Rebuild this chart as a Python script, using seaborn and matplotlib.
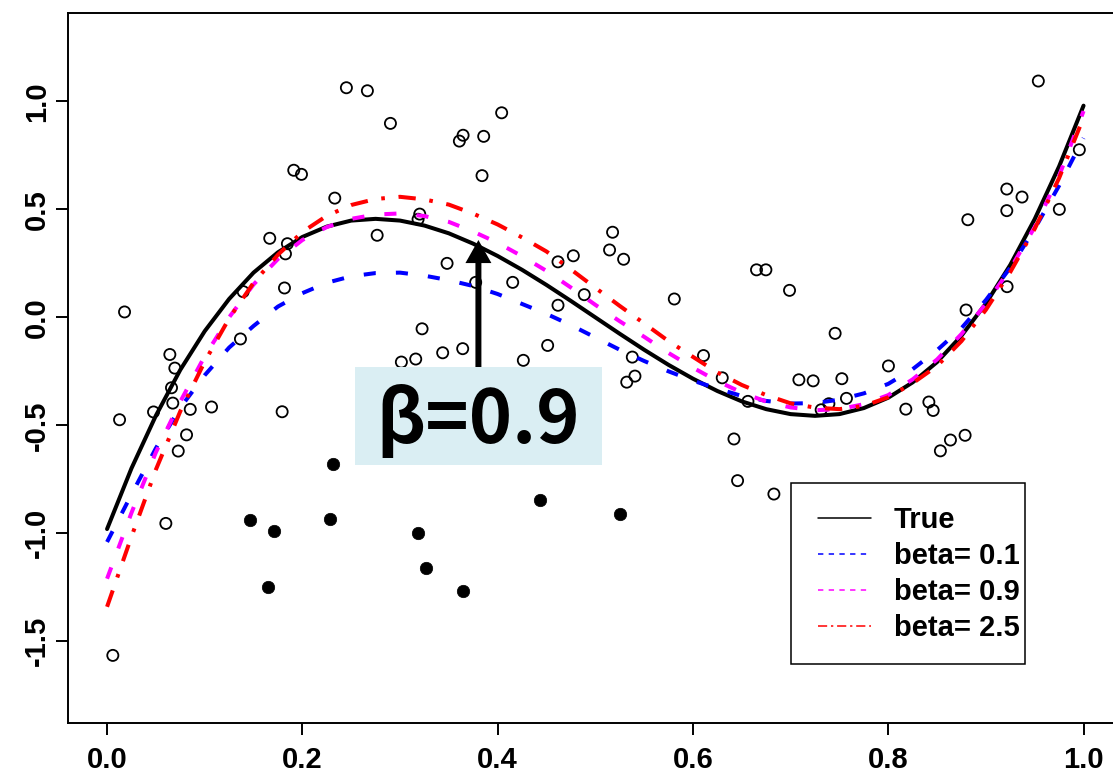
import numpy as np
import pandas as pd
import matplotlib
matplotlib.use("Agg")
import matplotlib.pyplot as plt
from matplotlib.lines import Line2D
from matplotlib.patches import Rectangle
import seaborn as sns

# ---------------- data ----------------
curve_x = [0.0, 0.025, 0.05, 0.075, 0.1, 0.125, 0.15, 0.175, 0.2, 0.225, 0.25, 0.275,
           0.3, 0.325, 0.35, 0.375, 0.4, 0.425, 0.45, 0.475, 0.5, 0.525, 0.55, 0.575,
           0.6, 0.625, 0.65, 0.675, 0.7, 0.725, 0.75, 0.775, 0.8, 0.825, 0.85, 0.875,
           0.9, 0.925, 0.95, 0.975, 1.0]
true_y = [-0.98, -0.699, -0.455, -0.243, -0.064, 0.085, 0.207, 0.301, 0.372, 0.420, 0.448, 0.456,
          0.448, 0.425, 0.389, 0.341, 0.284, 0.220, 0.150, 0.076, 0.0, -0.076, -0.150, -0.220,
          -0.284, -0.341, -0.389, -0.425, -0.448, -0.456, -0.448, -0.420, -0.372, -0.301, -0.207, -0.085,
          0.064, 0.243, 0.455, 0.699, 0.98]
beta01_y = [-1.04, -0.82, -0.606, -0.418, -0.268, -0.14, -0.04, 0.05, 0.112, 0.16, 0.19, 0.205,
            0.207, 0.193, 0.172, 0.145, 0.108, 0.062, 0.016, -0.036, -0.093, -0.15, -0.202, -0.25,
            -0.293, -0.33, -0.364, -0.387, -0.399, -0.397, -0.381, -0.352, -0.308, -0.24, -0.152, -0.05,
            0.08, 0.23, 0.41, 0.61, 0.83]
beta09_y = [-1.21, -0.905, -0.625, -0.39, -0.18, 0.0, 0.152, 0.27, 0.358, 0.418, 0.456, 0.476,
            0.481, 0.469, 0.442, 0.397, 0.345, 0.283, 0.215, 0.138, 0.058, -0.018, -0.09, -0.165,
            -0.233, -0.295, -0.348, -0.39, -0.417, -0.43, -0.425, -0.402, -0.36, -0.287, -0.195, -0.077,
            0.063, 0.225, 0.418, 0.655, 0.955]
beta25_y = [-1.34, -1.015, -0.705, -0.435, -0.205, -0.005, 0.16, 0.29, 0.395, 0.47, 0.52, 0.548,
            0.558, 0.546, 0.522, 0.48, 0.43, 0.37, 0.305, 0.222, 0.137, 0.053, -0.028, -0.11,
            -0.183, -0.255, -0.313, -0.36, -0.398, -0.418, -0.425, -0.41, -0.37, -0.305, -0.225, -0.11,
            0.035, 0.21, 0.41, 0.645, 0.925]

open_x = [0.0059, 0.0128, 0.0179, 0.0476, 0.0602, 0.0643, 0.0694, 0.0660, 0.0673, 0.0852,
          0.1070, 0.0814, 0.0729, 0.1793, 0.1366, 0.1394, 0.1817, 0.1666, 0.1847, 0.1827,
          0.1912, 0.1991, 0.2332, 0.2451, 0.2666, 0.2902, 0.4041, 0.3646, 0.3608, 0.3857,
          0.3840, 0.3202, 0.3185, 0.2766, 0.5177, 0.5146, 0.5290, 0.4775, 0.4618, 0.4887,
          0.4618, 0.3482, 0.3775, 0.4154, 0.3226, 0.4512, 0.3437, 0.3642, 0.5379, 0.3014,
          0.3161, 0.4263, 0.5406, 0.5322, 0.6651, 0.6747, 0.6989, 0.5809, 0.6108, 0.7456,
          0.6300, 0.6563, 0.6420, 0.6457, 0.6829, 0.7085, 0.7231, 0.7525, 0.8002, 0.7572,
          0.7392, 0.7313, 0.8180, 0.9537, 0.9957, 0.9214, 0.9370, 0.9214, 0.8815, 0.9752,
          0.9217, 0.8797, 0.8416, 0.8460, 0.8787, 0.8637, 0.8534]
open_y = [-1.565, -0.474, 0.025, -0.438, -0.954, -0.172, -0.235, -0.326, -0.397, -0.426,
          -0.415, -0.544, -0.619, -0.437, -0.100, 0.119, 0.136, 0.366, 0.341, 0.294,
          0.681, 0.662, 0.552, 1.063, 1.049, 0.898, 0.947, 0.843, 0.816, 0.838,
          0.656, 0.478, 0.454, 0.380, 0.394, 0.312, 0.269, 0.285, 0.257, 0.105,
          0.056, 0.250, 0.162, 0.162, -0.053, -0.130, -0.164, -0.145, -0.184, -0.207,
          -0.193, -0.199, -0.272, -0.300, 0.220, 0.220, 0.125, 0.085, -0.177, -0.074,
          -0.280, -0.389, -0.563, -0.756, -0.818, -0.289, -0.294, -0.284, -0.225, -0.375,
          -0.400, -0.428, -0.425, 1.094, 0.776, 0.594, 0.557, 0.494, 0.452, 0.500,
          0.142, 0.034, -0.392, -0.431, -0.546, -0.568, -0.618]

outlier_x = [0.2315, 0.1459, 0.1707, 0.2285, 0.1650, 0.4434, 0.5253, 0.3188, 0.3270, 0.3649]
outlier_y = [-0.681, -0.940, -0.989, -0.934, -1.247, -0.846, -0.909, -0.997, -1.159, -1.267]

x_ticks = [0.0, 0.2, 0.4, 0.6, 0.8, 1.0]
x_ticklabels = ["0.0", "0.2", "0.4", "0.6", "0.8", "1.0"]
y_ticks = [-1.5, -1.0, -0.5, 0.0, 0.5, 1.0]
y_ticklabels = ["-1.5", "-1.0", "-0.5", "0.0", "0.5", "1.0"]

legend_labels = ["True", "beta= 0.1", "beta= 0.9", "beta= 2.5"]
annotation_text = "\u03b2=0.9"

# ---------------- style ----------------
sns.set_style("ticks")
plt.rcParams['font.family'] = ['Liberation Sans', 'DejaVu Sans']
plt.rcParams['font.weight'] = 'bold'
plt.rcParams['text.color'] = 'black'
plt.rcParams['axes.edgecolor'] = 'black'
plt.rcParams['xtick.color'] = 'black'
plt.rcParams['ytick.color'] = 'black'

W, H = 1113, 777
fig = plt.figure(figsize=(W / 100, H / 100), dpi=100)
ax = fig.add_axes([68 / W, 54 / H, (1122.6 - 68) / W, 710 / H])

# points
sns.scatterplot(x=open_x, y=open_y, ax=ax, marker='o', s=64, color='black',
                edgecolor='black', linewidth=1.3, zorder=2)
ax.collections[-1].set_facecolor('none')
sns.scatterplot(x=outlier_x, y=outlier_y, ax=ax, marker='o', s=80, color='black',
                edgecolor='black', linewidth=0.5, zorder=2)

# curves
LW = 2.9
sns.lineplot(x=curve_x, y=true_y, ax=ax, color='black', lw=LW, estimator=None,
             sort=False, zorder=3)
sns.lineplot(x=curve_x, y=beta01_y, ax=ax, color='#0000FF', lw=LW, estimator=None,
             sort=False, linestyle=(0, (3.0, 5.0)), zorder=3)
sns.lineplot(x=curve_x, y=beta09_y, ax=ax, color='#FF00FF', lw=LW, estimator=None,
             sort=False, linestyle=(0, (3.0, 5.0)), zorder=3)
sns.lineplot(x=curve_x, y=beta25_y, ax=ax, color='#FF0000', lw=LW, estimator=None,
             sort=False, linestyle=(0, (4.3, 3.4, 0.9, 3.4)), zorder=3)

ax.set_xlim(-0.04, 1.04)
ax.set_ylim(-1.878, 1.409)

ax.set_xticks(x_ticks)
ax.set_xticklabels(x_ticklabels, fontsize=21, fontweight='bold')
ax.set_yticks(y_ticks)
ax.set_yticklabels(y_ticklabels, fontsize=21, fontweight='bold', rotation=90,
                   va='center')
ax.tick_params(axis='both', direction='out', length=8.5, width=1.4, color='black')
ax.tick_params(axis='x', pad=8)
ax.tick_params(axis='y', pad=4)
for sp in ax.spines.values():
    sp.set_visible(True)
    sp.set_linewidth(1.4)
    sp.set_color('black')
ax.set_xlabel("")
ax.set_ylabel("")

# annotation box + arrow
ax.annotate("", xy=(0.3803, 0.358), xytext=(0.3803, -0.30),
            arrowprops=dict(width=4.3, headwidth=18.7, headlength=16.6,
                            facecolor='black', edgecolor='black', lw=0, shrink=0),
            zorder=4)
ax.add_patch(Rectangle((0.2544, -0.684), 0.2528, 0.454, facecolor='#DAEEF3',
                       edgecolor='none', zorder=5))
ax.text(0.3803, -0.582, annotation_text, ha='center', va='baseline', fontsize=53,
        fontweight='bold', color='black', family=['Noto Sans CJK JP', 'DejaVu Sans'], zorder=6)

# legend
handles = [
    Line2D([], [], color='black', lw=1.1),
    Line2D([], [], color='#0000FF', lw=1.1, linestyle=(0, (3.5, 3.5))),
    Line2D([], [], color='#FF00FF', lw=1.1, linestyle=(0, (3.5, 3.5))),
    Line2D([], [], color='#FF0000', lw=1.1, linestyle=(0, (6, 2.5, 1.5, 2.5))),
]
leg = ax.legend(handles, legend_labels, loc='center left',
                bbox_to_anchor=(818 / W, (777 - 574) / H), bbox_transform=fig.transFigure,
                frameon=False, borderpad=0, borderaxespad=0, handlelength=1.8,
                handletextpad=0.8, labelspacing=0.28,
                prop={'size': 21, 'weight': 'bold', 'family': ['Liberation Sans', 'DejaVu Sans']})
for t in leg.get_texts():
    t.set_color('black')
fig.add_artist(Rectangle((791 / W, (777 - 664) / H), (1025 - 791) / W, (664 - 483) / H,
                         transform=fig.transFigure, fill=False, edgecolor='black',
                         linewidth=1.1, zorder=10))

fig.savefig("out.png", dpi=100)
